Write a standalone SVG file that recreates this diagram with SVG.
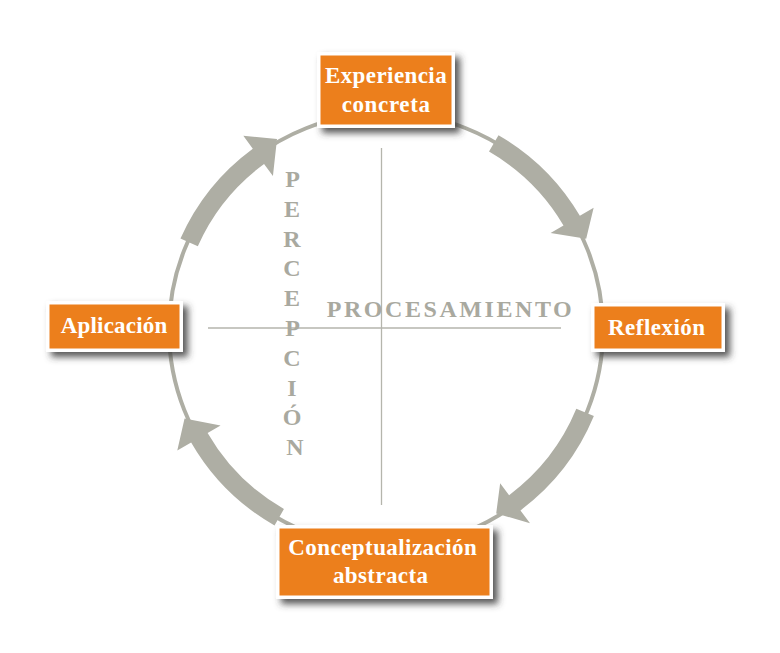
<svg xmlns="http://www.w3.org/2000/svg" width="780" height="653" viewBox="0 0 780 653">
  <style>
    .ring { fill: none; stroke: #AEAEA4; stroke-width: 4; }
    .arrow { fill: #AEAEA4; stroke: none; }
    .axis { stroke: #B5B5AC; stroke-width: 1.3; fill: none; }
    .axislbl { font-family: "Liberation Serif", "DejaVu Serif", serif; font-weight: bold; fill: #A9A99F; font-size: 24px; }
    .frame { fill: #FFFFFF; filter: url(#shadow); }
    .box { fill: #EC7F1C; }
    .lbl { font-family: "Liberation Serif", "DejaVu Serif", serif; font-weight: bold; font-size: 23px; fill: #FFFFFF; text-anchor: middle; }
  </style>
  <defs>
    <filter id="shadow" x="-20%" y="-30%" width="150%" height="170%">
      <feDropShadow dx="5" dy="5" stdDeviation="3.5" flood-color="#3a3a3a" flood-opacity="0.85"/>
    </filter>
  </defs>
  <rect width="780" height="653" fill="#FFFFFF"/>

  <g id="axes">
    <line class="axis" x1="381.5" y1="148" x2="381.5" y2="505"/>
    <line class="axis" x1="208" y1="328" x2="561" y2="328"/>
    <text class="axislbl" x="326.7" y="316.7" textLength="245" lengthAdjust="spacing">PROCESAMIENTO</text>
    <text class="axislbl" text-anchor="middle">
      <tspan x="295" y="187">P</tspan>
      <tspan x="295" y="216.8">E</tspan>
      <tspan x="295" y="246.6">R</tspan>
      <tspan x="295" y="276.4">C</tspan>
      <tspan x="295" y="306.2">E</tspan>
      <tspan x="295" y="336">P</tspan>
      <tspan x="295" y="365.8">C</tspan>
      <tspan x="295" y="395.6">I</tspan>
      <tspan x="295" y="425.4">Ó</tspan>
      <tspan x="295" y="455.2">N</tspan>
    </text>
  </g>

  <g id="connectors">
    <circle class="ring" cx="386" cy="330" r="217"/>
    <path class="arrow" d="M498.5,135.14 A225,225 0 0 1 579.87,215.8 L593.65,207.68 L586.19,238.77 L550.57,233.06 L563.5,225.45 A206,206 0 0 0 489,151.6 Z"/>
    <path class="arrow" d="M593.87,416.1 A225,225 0 0 1 520.47,510.4 L530.03,523.23 L496.2,513.4 L500.15,483.14 L509.11,495.17 A206,206 0 0 0 576.32,408.83 Z"/>
    <path class="arrow" d="M274.52,525.44 A225,225 0 0 1 191.14,442.5 L177.29,450.5 L184.55,418.43 L220.59,425.5 L207.6,433 A206,206 0 0 0 283.94,508.94 Z"/>
    <path class="arrow" d="M180.45,238.48 A225,225 0 0 1 252.8,148.67 L243.33,135.77 L277,138.9 L272.93,176.07 L264.05,163.98 A206,206 0 0 0 197.81,246.21 Z"/>
  </g>

  <g id="experiencia-concreta">
    <rect class="frame" x="317" y="52" width="138" height="76"/>
    <rect class="box" x="320.5" y="55.5" width="131" height="69"/>
    <text class="lbl" x="385.8" y="83.3" textLength="121.7" lengthAdjust="spacing">Experiencia</text>
    <text class="lbl" x="385.8" y="111.7" textLength="88.3" lengthAdjust="spacing">concreta</text>
  </g>

  <g id="reflexion">
    <rect class="frame" x="591" y="303" width="134" height="49"/>
    <rect class="box" x="594.5" y="306.5" width="127" height="42"/>
    <text class="lbl" x="656.5" y="335" textLength="97" lengthAdjust="spacing">Reflexión</text>
  </g>

  <g id="conceptualizacion-abstracta">
    <rect class="frame" x="276" y="525" width="217" height="74"/>
    <rect class="box" x="279.5" y="528.5" width="210" height="67"/>
    <text class="lbl" x="382.5" y="555" textLength="188.4" lengthAdjust="spacing">Conceptualización</text>
    <text class="lbl" x="380.5" y="582.7" textLength="95" lengthAdjust="spacing">abstracta</text>
  </g>

  <g id="aplicacion">
    <rect class="frame" x="46" y="301" width="137" height="51"/>
    <rect class="box" x="49.5" y="304.5" width="130" height="44"/>
    <text class="lbl" x="114" y="333.3" textLength="106.6" lengthAdjust="spacing">Aplicación</text>
  </g>
</svg>
